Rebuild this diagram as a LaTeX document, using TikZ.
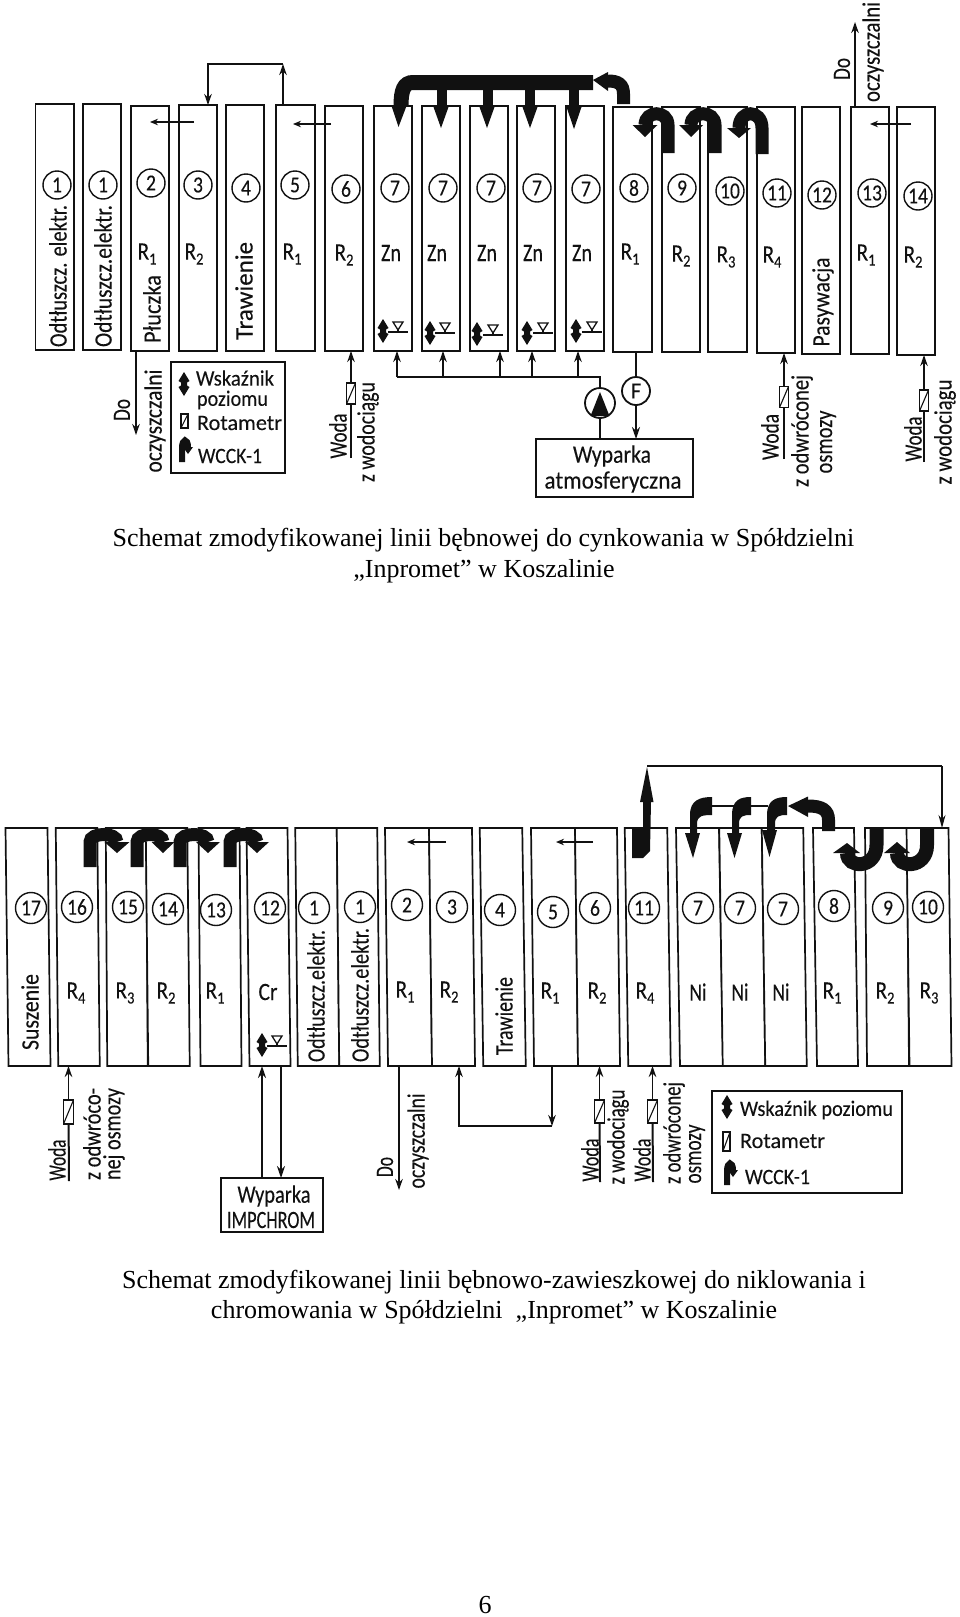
\documentclass[tikz,border=0pt]{standalone}
\usepackage{fontspec}
\usepackage{graphicx}
\usetikzlibrary{arrows.meta,calc}
\newfontfamily\techfont[FakeBold=0.15]{Carlito}
\newfontfamily\capfont{Liberation Serif}
\definecolor{ink}{HTML}{111111}

% vessel with top and bottom edges that may be offset: name, x-left/right top, x-left/right bottom, y top, y bottom
\newcommand{\vat}[7]{%
  \pgfmathsetmacro{\vcx}{(#2+#3+#4+#5)/4}%
  \pgfmathsetmacro{\vcy}{(#6+#7)/2}%
  \pgfmathsetmacro{\vw}{(#3-#2+#5-#4)/2}%
  \pgfmathsetmacro{\vh}{#7-#6}%
  \pgfmathsetmacro{\vs}{-((#4-#2)+(#5-#3))/2/(#7-#6)}%
  \node[vessel,minimum width=\vw pt,minimum height=\vh pt,xslant=\vs] (#1) at (\vcx,\vcy) {};}
% numbered station circles, upper and lower line
\newcommand{\stn}[4]{\node[station] (#1) at (#2,#3) {\scalebox{.85}[1]{#4}};}
\newcommand{\stnb}[4]{\node[station,minimum size=31pt] (#1) at (#2,#3) {\scalebox{.85}[1]{#4}};}
% technical lettering fitted to a given length: name, x, y, angle, length, text
\newcommand{\lab}[6]{\node[lettering,rotate=#4] (#1) at (#2,#3) {\resizebox{#5pt}{\height}{#6}};}
\newcommand{\klab}[6]{\node[lettering,keytext,rotate=#4] (#1) at (#2,#3) {\resizebox{#5pt}{\height}{#6}};}
% tank name with subscript
\newcommand{\subn}[5]{\node[lettering] (#1) at (#2,#3) {\scalebox{.85}[1]{#4}\raisebox{-5pt}{\fontsize{17}{17}\selectfont\scalebox{.85}[1]{#5}}};}
% thick bent wcck arrow: leg x, leg end y, head x, head base y, head half width, head tip y, control y
\newcommand{\arch}[7]{%
  \draw[band] (#1,#2) -- (#1,#4) .. controls (#1,#7) and (#3,#7) .. (#3,#4);
  \fill[ink] ({#3-#5},#4) -- ({#3+#5},#4) -- (#3,#6) -- cycle;}
% straight thick drop with wedge head: stem x, stem top y, head x, base y, tip y
\newcommand{\drop}[5]{%
  \draw[band,line width=10pt] (#1,#2) -- (#1,#4);
  \fill[ink] ({#3-7.5},#4) -- ({#3+7.5},#4) -- (#3,#5) -- cycle;}

\tikzset{
  vessel/.style={draw=ink,line width=1.7pt,inner sep=0pt,outer sep=0pt,fill=white},
  station/.style={draw=ink,circle,line width=1.4pt,minimum size=28pt,inner sep=0pt,font=\techfont\fontsize{23}{23}\selectfont,text=ink},
  lettering/.style={inner sep=0pt,outer sep=0pt,text=ink,font=\techfont\fontsize{25}{25}\selectfont},
  keytext/.style={font=\techfont\fontsize{22}{22}\selectfont},
  caption/.style={inner sep=0pt,text=black,font=\capfont\fontsize{26}{26}\selectfont,anchor=base},
  pipe/.style={draw=ink,line width=1.6pt},
  flow/.style={pipe,-{Stealth[length=11pt,width=7.5pt]}},
  heavyflow/.style={draw=ink,line width=2pt,-{Stealth[length=12pt,width=8pt]}},
  transfer/.style={draw=ink,line width=1.3pt,-{Stealth[length=8pt,width=6.5pt]}},
  band/.style={draw=ink,line width=13pt},
  rotameter/.style={draw=ink,fill=white,line width=1.3pt,minimum width=9pt,minimum height=21pt,inner sep=0pt,outer sep=0pt,
    path picture={\draw[ink,line width=1.1pt] (path picture bounding box.south west) -- (path picture bounding box.north east);}},
  framebox/.style={draw=ink,line width=1.6pt,inner sep=0pt,outer sep=0pt},
  wheel/.style={draw=ink,circle,line width=1.8pt,inner sep=0pt,outer sep=0pt,fill=white},
  levelarrow/.pic={\fill[ink] (0,-12) -- (5.5,-3) -- (3,-1.5) -- (3,1.5) -- (5.5,3) -- (0,12) -- (-5.5,3) -- (-3,1.5) -- (-3,-1.5) -- (-5.5,-3) -- cycle;},
  levelgauge/.pic={\draw[ink,line width=1.4pt] (-10,0) -- (10,0);
    \draw[ink,line width=1.3pt] (-5,-10) -- (5,-10) -- (0,-2) -- cycle; \draw[ink,line width=1.3pt] (0,-2) -- (0,0);},
  wcckmark/.pic={\draw[ink,line width=6pt] (0,0) -- (0,-14) .. controls (0,-24) and (6,-24) .. (6,-15);
    \fill[ink] (1,-15) -- (11,-15) -- (6,-8) -- cycle;}
}

\begin{document}
\begin{tikzpicture}[x=1pt,y=-1pt]
\useasboundingbox (0,0) rectangle (960,1617);
\fill[white] (0,0) rectangle (960,1617);

%% ---------- zinc plating line ----------
\vat{a1}{35.5}{74}{35.5}{74}{104}{350}
\vat{a2}{83}{121}{83}{121}{104}{350}
\vat{a3}{131}{169}{131}{169}{106}{351}
\vat{a4}{179}{217}{179}{217}{105}{351}
\vat{a5}{226}{264}{226}{264}{105}{351}
\vat{a6}{276}{315}{276}{315}{105}{351}
\vat{a7}{325}{363}{325}{363}{106}{351}
\vat{z1}{374}{412}{374}{412}{106}{351}
\vat{z2}{422}{460}{422}{460}{106}{351}
\vat{z3}{470}{508}{470}{508}{106}{351}
\vat{z4}{517}{555}{517}{555}{106}{351}
\vat{z5}{566}{604}{566}{604}{106}{351}
\vat{a8}{613}{652}{613}{652}{107}{352}
\vat{a9}{662}{700}{662}{700}{107}{352}
\vat{a10}{708}{747}{708}{747}{107}{352}
\vat{a11}{757}{795}{757}{795}{107}{353}
\vat{a12}{802}{840}{802}{840}{107}{354}
\vat{a13}{851}{889}{851}{889}{107}{354}
\vat{a14}{897}{935}{897}{935}{107}{355}

\stn{n1}{57}{185}{1} \stn{n2}{103}{185}{1} \stn{n3}{151}{183}{2} \stn{n4}{198}{185}{3}
\stn{n5}{246}{188}{4} \stn{n6}{295}{185}{5} \stn{n7}{346}{189}{6} \stn{n8}{395}{188}{7}
\stn{n9}{443}{188}{7} \stn{n10}{491}{188}{7} \stn{n11}{537}{188}{7} \stn{n12}{586}{189}{7}
\stn{n13}{634}{188}{8} \stn{n14}{682}{188}{9} \stn{n15}{730}{191}{10} \stn{n16}{777}{193}{11}
\stn{n17}{822}{195}{12} \stn{n18}{872}{193}{13} \stn{n19}{918}{196}{14}

\subn{s1}{147}{254}{R}{1} \subn{s2}{194}{254}{R}{2} \subn{s3}{292}{254}{R}{1} \subn{s4}{344}{255}{R}{2}
\lab{s5}{391}{253}{0}{20}{Zn} \lab{s6}{437}{253}{0}{20}{Zn}
\lab{s7}{487}{253}{0}{20}{Zn} \lab{s8}{533}{253}{0}{20}{Zn}
\lab{s9}{582}{253}{0}{20}{Zn}
\subn{s10}{630}{254}{R}{1} \subn{s11}{681}{256}{R}{2} \subn{s12}{726}{257}{R}{3}
\subn{s13}{772}{257}{R}{4} \subn{s14}{866}{255}{R}{1} \subn{s15}{913}{257}{R}{2}

\lab{l1}{58}{276}{90}{142}{Odtłuszcz. elektr.}
\lab{l2}{103}{276}{90}{142}{Odtłuszcz.elektr.}
\lab{l3}{152}{309}{90}{68}{Płuczka}
\lab{l4}{244}{291}{90}{98}{Trawienie}
\lab{l5}{823}{302}{90}{89}{Pasywacja}

% parts moved between neighbouring rinses
\coordinate (h1a) at (194,122); \coordinate (h1b) at (150,122);
\coordinate (h2a) at (331,124); \coordinate (h2b) at (293,124);
\coordinate (h3a) at (911,124); \coordinate (h3b) at (870,124);
\draw[transfer] (h1a) -- (h1b);
\draw[transfer] (h2a) -- (h2b);
\draw[transfer] (h3a) -- (h3b);

% overflow loop from R1 to R2
\coordinate (loopR) at (283,64); \coordinate (loopL) at (208,64);
\draw[flow] (loopR |- a6.north) -- (loopR);
\draw[flow] (loopR) -- (loopL) -- (loopL |- a4.north);

% drain at the far right
\coordinate (drainA) at (855,22);
\draw[flow] (drainA |- a13.north) -- (drainA);
\lab{l6}{842}{69}{90}{22}{Do}
\lab{l7}{873}{52}{90}{100}{oczyszczalni}

% thick recovery header over the zinc tanks
\draw[band,line width=15pt] (593,82.5) -- (413,82.5) .. controls (404,82.5) and (401,90) .. (401,106);
\fill[ink] (391.5,106) -- (406.5,106) -- (398.5,127) -- cycle;
\drop{442}{88}{441}{107}{128}
\drop{488}{88}{487}{107}{128}
\drop{530}{88}{530}{107}{128}
\drop{574}{88}{574}{107}{129}
\draw[band] (623.5,104) -- (623.5,94) .. controls (623.5,84) and (618,81) .. (608,81);
\fill[ink] (608,72) -- (608,91) -- (593,80) -- cycle;

% counter-flow returns over the rinses
\arch{668}{153}{645}{125}{12.5}{137}{110}
\arch{715}{153}{691}{125}{12}{137}{110}
\arch{762}{154}{739}{128}{12}{138}{109}

% level indicators
\pic at (383,331) {levelarrow}; \pic at (398,332) {levelgauge};
\pic at (430,333) {levelarrow}; \pic at (445,333) {levelgauge};
\pic at (477,334) {levelarrow}; \pic at (493,335) {levelgauge};
\pic at (527,333) {levelarrow}; \pic at (543,333) {levelgauge};
\pic at (576,331) {levelarrow}; \pic at (592,332) {levelgauge};

% feed manifold, pump and evaporator
\coordinate (m1) at (397,377); \coordinate (m2) at (443,377); \coordinate (m3) at (500,377);
\coordinate (m4) at (532,377); \coordinate (m5) at (578,377); \coordinate (m6) at (600,377);
\node[framebox,minimum width=157pt,minimum height=58pt] (evap) at (614.5,468) {};
\node[wheel,minimum size=30pt] (pump) at (600,403) {};
\node[wheel,minimum size=28pt] (fmeter) at (636,391) {\fontsize{23}{23}\selectfont\techfont\color{ink}F};
\fill[ink] (600,392) -- (609.5,416) -- (590.5,416) -- cycle;
\draw[pipe] (m1) -- (m6) -- (pump);
\draw[heavyflow,-] (pump) -- (pump |- evap.north);
\foreach \m/\t in {m1/z1,m2/z2,m3/z3,m4/z4,m5/z5} \draw[flow] (\m) -- (\m |- \t.south);
\draw[heavyflow,-] (fmeter |- a8.south) -- (fmeter);
\draw[heavyflow] (fmeter) -- (fmeter |- evap.north);
\lab{l8}{612}{456}{0}{78}{Wyparka}
\lab{l9}{613}{482}{0}{137}{atmosferyczna}

% outlet of the first rinse
\coordinate (drainB) at (136,435);
\draw[flow] (drainB |- a3.south) -- (drainB);
\lab{l10}{122}{410}{90}{22}{Do}
\lab{l11}{155}{421}{90}{103}{oczyszczalni}

% key
\node[framebox,minimum width=114pt,minimum height=111pt] (key1) at (228,417.5) {};
\pic at (184,384) {levelarrow};
\klab{l12}{235}{378}{0}{78}{Wskaźnik}
\klab{l13}{232.5}{400}{0}{71}{poziomu}
\node[rotameter,minimum width=7pt,minimum height=14pt] (kr1) at (184.5,421) {};
\klab{l14}{239.5}{423}{0}{85}{Rotametr}
\pic at (182,462) {wcckmark};
\klab{l15}{230}{456}{0}{64}{WCCK-1}

% water supplies with rotameters
\node[rotameter] (r1) at (351,393.5) {};
\coordinate (w1) at (351,458);
\draw[heavyflow,-] (w1) -- (r1);
\draw[flow] (r1) -- (r1 |- a7.south);
\lab{l16}{338}{436}{90}{45}{Woda}
\lab{l17}{368}{432}{90}{100}{z wodociągu}

\node[rotameter] (r2) at (784,397) {};
\coordinate (w2) at (784,459);
\draw[heavyflow,-] (w2) -- (r2);
\draw[flow] (r2) -- (r2 |- a11.south);
\lab{l18}{770}{437}{90}{46}{Woda}
\lab{l19}{802}{431}{90}{112}{z odwróconej}
\lab{l20}{828}{442}{90}{63}{osmozy}

\node[rotameter] (r3) at (924,400.5) {};
\coordinate (w3) at (924,462);
\draw[heavyflow,-] (w3) -- (r3);
\draw[flow] (r3) -- (r3 |- a14.south);
\lab{l21}{913}{439}{90}{45}{Woda}
\lab{l22}{945}{432}{90}{105}{z wodociągu}

\node[caption] (cap1) at (483.5,546) {Schemat zmodyfikowanej linii bębnowej do cynkowania w Spółdzielni};
\node[caption] (cap2) at (484,577) {„Inpromet” w Koszalinie};

%% ---------- nickel and chromium line ----------
\vat{b17}{6}{47}{8}{51}{828}{1066}
\vat{b16}{56}{97}{58}{100}{828}{1066}
\vat{b15}{106}{146}{107}{148}{828}{1066}
\vat{b14}{146}{187}{148}{190}{828}{1066}
\vat{b13}{199}{239}{200}{242}{828}{1066}
\vat{b12}{247}{287}{249}{291}{828}{1066}
\vat{b1a}{295}{337}{298}{339}{828}{1066}
\vat{b1b}{337}{377}{339}{380}{828}{1066}
\vat{b2}{385}{429}{388}{432}{828}{1066}
\vat{b3}{429}{472}{432}{475}{828}{1066}
\vat{b4}{480}{522}{483}{526}{828}{1066}
\vat{b5}{531}{575}{534}{578}{828}{1066}
\vat{b6}{575}{617}{578}{620}{828}{1066}
\vat{b11}{625}{667}{628}{671}{828}{1066}
\vat{b7a}{676}{719}{680}{723}{828}{1066}
\vat{b7b}{719}{762}{723}{765}{828}{1066}
\vat{b7c}{762}{803}{765}{807}{828}{1066}
\vat{b8}{813}{854}{817}{858}{828}{1066}
\vat{b9}{865}{907}{867}{909}{828}{1066}
\vat{b10}{907}{948}{909}{952}{828}{1066}

\stnb{c1}{31}{908}{17} \stnb{c2}{77}{907}{16} \stnb{c3}{128}{907}{15} \stnb{c4}{168}{909}{14}
\stnb{c5}{216}{910}{13} \stnb{c6}{270}{908}{12} \stnb{c7}{314}{908}{1} \stnb{c8}{360}{907}{1}
\stnb{c9}{407}{905}{2} \stnb{c10}{452}{907}{3} \stnb{c11}{500}{910}{4} \stnb{c12}{553}{912}{5}
\stnb{c13}{595}{908}{6} \stnb{c14}{644}{908}{11} \stnb{c15}{698}{908}{7} \stnb{c16}{740}{908}{7}
\stnb{c17}{783}{909}{7} \stnb{c18}{834}{906}{8} \stnb{c19}{888}{908}{9} \stnb{c20}{928}{907}{10}

\subn{t1}{76}{993}{R}{4} \subn{t2}{125}{993}{R}{3} \subn{t3}{166}{993}{R}{2} \subn{t4}{215}{993}{R}{1}
\lab{t5}{268}{992}{0}{19}{Cr}
\subn{t6}{405}{992}{R}{1} \subn{t7}{449}{992}{R}{2} \subn{t8}{550}{993}{R}{1} \subn{t9}{597}{993}{R}{2}
\subn{t10}{645}{993}{R}{4}
\lab{t11}{698}{992}{0}{17}{Ni} \lab{t12}{740}{992}{0}{17}{Ni}
\lab{t13}{781}{992}{0}{17}{Ni}
\subn{t14}{832}{993}{R}{1} \subn{t15}{885}{993}{R}{2} \subn{t16}{929}{993}{R}{3}

\lab{u1}{30}{1012}{90}{76}{Suszenie}
\lab{u2}{316}{996}{90}{132}{Odtłuszcz.elektr.}
\lab{u3}{360}{995}{90}{134}{Odtłuszcz.elektr.}
\lab{u4}{504}{1016}{90}{78}{Trawienie}

\coordinate (v1a) at (446,842); \coordinate (v1b) at (407,842);
\coordinate (v2a) at (593,842); \coordinate (v2b) at (556,842);
\draw[transfer] (v1a) -- (v1b);
\draw[transfer] (v2a) -- (v2b);

% returns over the rinses before drying
\arch{90}{867}{117}{842}{12.5}{853}{832}
\arch{137}{867}{163}{842}{11.5}{853}{832}
\arch{180}{867}{208}{842}{12}{853}{832}
\arch{230}{867}{257}{842}{12}{853}{832}

% recovery to the nickel tanks
\fill[ink] (632,828) -- (632,858) -- (643,858) -- (650,851) -- (651,802) -- (653.5,802) -- (647,767)
  -- (640,802) -- (643,802) -- (643,828) -- cycle;
\coordinate (topL) at (647,766); \coordinate (topR) at (942,766);
\draw[pipe,line width=1.3pt] (topL) -- (topR);
\draw[transfer,-{Stealth[length=13pt,width=7pt]}] (topR) -- (topR |- b10.north);

\coordinate (nl1) at (712,806); \coordinate (nl2) at (768,806);
\draw[pipe,line width=1.1pt] (nl1) -- (nl2);
\fill[ink] (712,797) .. controls (700,797) and (690,800) .. (690,815) -- (690,833) -- (685,833) -- (693,858) -- (700,833) -- (697,833) -- (697,824) .. controls (697,816) and (702,815) .. (712,815) -- cycle;
\fill[ink] (751,797) .. controls (740,797) and (732,800) .. (732,815) -- (732,833) -- (727,833) -- (734.5,858) -- (742,833) -- (739,833) -- (739,824) .. controls (739,816) and (743,815) .. (751,815) -- cycle;
\fill[ink] (787,797) .. controls (776,797) and (767,800) .. (767,815) -- (767,830) -- (762,830) -- (769.5,857) -- (777,830) -- (775,830) -- (775,824) .. controls (775,816) and (779,815) .. (787,815) -- cycle;
\draw[band] (828.5,831) -- (828.5,820) .. controls (828.5,810) and (822,806) .. (808,806);
\fill[ink] (808,796.5) -- (808,817) -- (788,806) -- cycle;

\draw[band,line width=14pt] (876.5,828) -- (876.5,845) .. controls (876.5,869) and (847,869) .. (847,853);
\fill[ink] (833,853) -- (860,853) -- (847,843) -- cycle;
\draw[band,line width=14pt] (927,828) -- (927,845) .. controls (927,869) and (897,869) .. (897,853);
\fill[ink] (884,853) -- (910,853) -- (897,842) -- cycle;

% chromium tank and its evaporator
\pic at (262,1045) {levelarrow}; \pic at (277,1046) {levelgauge};
\node[framebox,minimum width=102pt,minimum height=54pt] (evap2) at (272,1205) {};
\coordinate (cr1) at (262,1178); \coordinate (cr2) at (281,1178);
\draw[heavyflow] (cr1 |- evap2.north) -- (cr1 |- b12.south);
\draw[heavyflow] (cr2 |- b12.south) -- (cr2 |- evap2.north);
\lab{u5}{274}{1196}{0}{73}{Wyparka}
\lab{u6}{271}{1220}{0}{88}{IMPCHROM}

% rotameter on the drying-side rinse
\node[rotameter,minimum width=10pt,minimum height=24pt] (q1) at (68.5,1112) {};
\coordinate (q1e) at (69,1181);
\draw[heavyflow,-] (q1e) -- (q1);
\draw[flow] (q1) -- (q1 |- b16.south);
\lab{u7}{57}{1160}{90}{41}{Woda}
\lab{u8}{92}{1134}{90}{92}{z odwróco-}
\lab{u9}{114}{1134}{90}{92}{nej osmozy}

% drain and cross-connection
\coordinate (dc) at (399,1190);
\draw[flow] (dc |- b2.south) -- (dc);
\lab{u10}{385}{1167}{90}{20}{Do}
\lab{u11}{418}{1141}{90}{95}{oczyszczalni}
\coordinate (xL) at (459,1126); \coordinate (xR) at (552,1126);
\draw[flow] (xR |- b5.south) -- (xR);
\draw[flow] (xR) -- (xL) -- (xL |- b3.south);

\node[rotameter,minimum width=10pt,minimum height=23pt] (q2) at (599.5,1111.5) {};
\coordinate (q2e) at (600,1182);
\draw[heavyflow,-] (q2e) -- (q2);
\draw[flow] (q2) -- (q2 |- b6.south);
\lab{u12}{590}{1160}{90}{43}{Woda}
\lab{u13}{618}{1137}{90}{95}{z wodociągu}

\node[rotameter,minimum width=10pt,minimum height=23pt] (q3) at (652.5,1111.5) {};
\coordinate (q3e) at (653,1182);
\draw[heavyflow,-] (q3e) -- (q3);
\draw[flow] (q3) -- (q3 |- b11.south);
\lab{u14}{642}{1160}{90}{43}{Woda}
\lab{u15}{674}{1133}{90}{102}{z odwróconej}
\lab{u16}{697}{1154}{90}{59}{osmozy}

% key
\node[framebox,minimum width=190pt,minimum height=102pt] (key2) at (807,1142) {};
\pic at (727,1107) {levelarrow};
\klab{u17}{816.5}{1110}{0}{153}{Wskaźnik poziomu}
\node[rotameter,minimum width=7pt,minimum height=19pt] (kr2) at (726.5,1141.5) {};
\klab{u18}{782.5}{1141}{0}{85}{Rotametr}
\pic at (727,1185) {wcckmark};
\klab{u19}{777.5}{1177}{0}{65}{WCCK-1}

\node[caption] (cap3) at (494,1288) {Schemat zmodyfikowanej linii bębnowo-zawieszkowej do niklowania i};
\node[caption] (cap4) at (494,1318) {chromowania w Spółdzielni \ „Inpromet” w Koszalinie};
\node[caption] (pageno) at (485,1613) {6};
\end{tikzpicture}
\end{document}
